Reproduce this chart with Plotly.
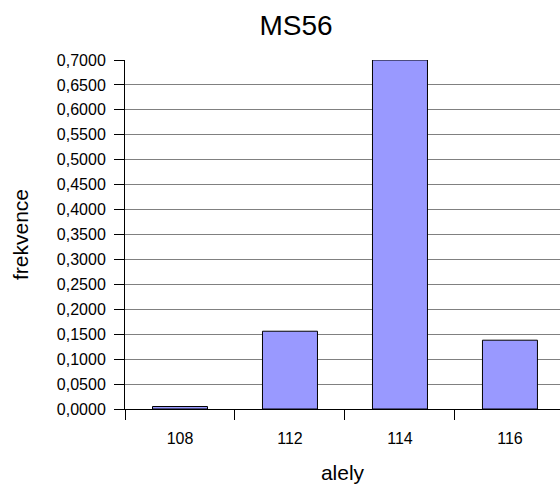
import plotly.graph_objects as go

categories = ["108", "112", "114", "116"]
values = [0.005, 0.156, 0.700, 0.138]
y_ticks = [i * 0.05 for i in range(15)]

fig = go.Figure()
fig.add_trace(go.Bar(
    x=categories, y=values, width=0.5,
    marker=dict(color="#9999FF", line=dict(color="#000000", width=1)),
    hoverinfo="skip",
))

fig.update_layout(
    width=560, height=492,
    paper_bgcolor="white", plot_bgcolor="white",
    margin=dict(l=125, r=0, t=60, b=83, autoexpand=False),
    separators=", ",
    font=dict(family="Liberation Sans, Arial, sans-serif", color="black"),
    title=dict(text="MS56", x=296 / 560, xanchor="center", y=1 - 25 / 492, yanchor="middle",
               font=dict(size=28)),
    showlegend=False,
)
fig.update_xaxes(
    type="category", range=[-0.5, 3.455],
    showline=True, linecolor="black", linewidth=1,
    ticks="outside", tickson="boundaries", ticklen=10, tickcolor="black",
    tickfont=dict(size=16), ticklabelstandoff=15,
    title=dict(text="alely", font=dict(size=21), standoff=19),
    showgrid=False, automargin=False,
)
fig.update_yaxes(
    range=[0, 0.7], tickvals=y_ticks, tickformat=".4f",
    showline=True, linecolor="black", linewidth=1,
    ticks="outside", ticklen=10, tickcolor="black",
    tickfont=dict(size=16), ticklabelstandoff=5,
    showgrid=True, gridcolor="#808080", gridwidth=1,
    zeroline=False, automargin=False,
    title=dict(text="frekvence", font=dict(size=21), standoff=22),
)

fig.write_html(
    "out.html",
    config={"displayModeBar": False, "staticPlot": True},
    post_script="document.body.style.margin='0px';document.body.style.overflow='hidden';",
)
